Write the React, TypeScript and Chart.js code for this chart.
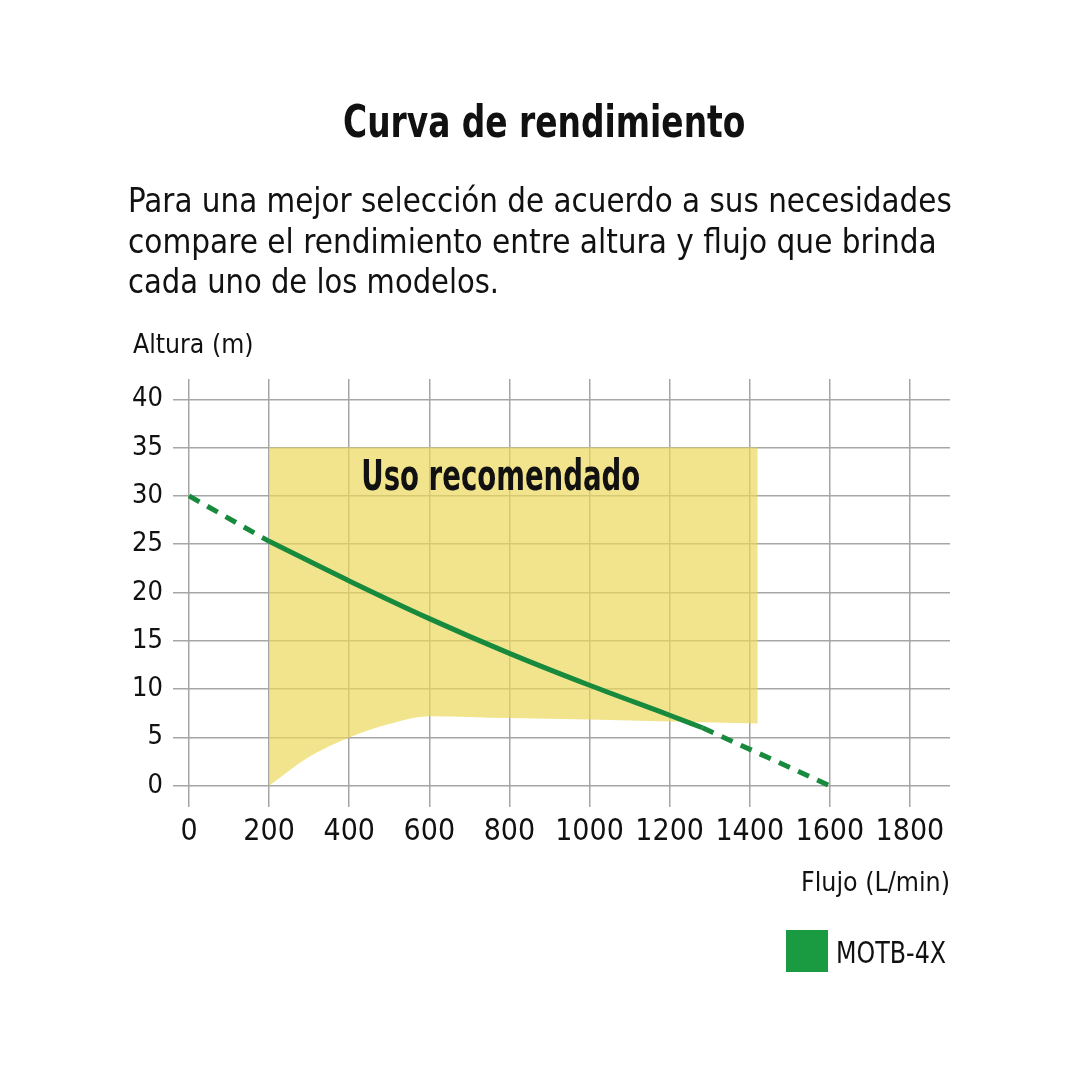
import React, { useEffect, useLayoutEffect, useRef, useState } from 'react';
import { Chart, registerables } from 'chart.js';

Chart.register(...registerables);

// axis ticks
const X_TICKS = [0, 200, 400, 600, 800, 1000, 1200, 1400, 1600, 1800];
const Y_TICKS = [0, 5, 10, 15, 20, 25, 30, 35, 40];

// MOTB-4X curve, solid part (recommended range)
const CURVE_X = [200, 400, 600, 800, 1000, 1200, 1282];
const CURVE_Y = [25.3, 21.2, 17.3, 13.7, 10.4, 7.3, 6.0];

// dashed extensions of the curve
const DASH_LEFT_X = [0, 200];
const DASH_LEFT_Y = [30, 25.3];
const DASH_RIGHT_X = [1282, 1600];
const DASH_RIGHT_Y = [6.0, 0];

// lower edge of the "Uso recomendado" zone (top edge is 35 m)
const ZONE_X = [200, 300, 400, 500, 600, 800, 1000, 1200, 1420];
const ZONE_Y = [0, 3.0, 5.0, 6.4, 7.2, 7.0, 6.85, 6.65, 6.45];
const ZONE_TOP = 35;

const ZONE_LABEL = 'Uso recomendado';
const ZONE_LABEL_AT = { x: 430, y: 30.6 };

const FONT = "'Liberation Sans Narrow', 'DejaVu Sans Condensed', 'Liberation Sans', sans-serif";
const LINE_GREEN = '#188a3e';
const LEGEND_GREEN = '#1a9a41';

const toPoints = (xs: number[], ys: number[]) => xs.map((x, i) => ({ x, y: ys[i] }));

// text squeezed horizontally to a given width (condensed look)
const FitText: React.FC<{ text: string; left: number; top: number; width: number; size: number; weight?: string }> = ({
  text,
  left,
  top,
  width,
  size,
  weight = 'normal',
}) => {
  const ref = useRef<HTMLSpanElement>(null);
  const [scale, setScale] = useState(1);

  useLayoutEffect(() => {
    if (ref.current && ref.current.offsetWidth) {
      setScale(width / ref.current.offsetWidth);
    }
  }, [text, width]);

  return (
    <span
      ref={ref}
      style={{
        position: 'absolute',
        left,
        top,
        whiteSpace: 'nowrap',
        fontFamily: FONT,
        fontSize: size,
        fontWeight: weight,
        lineHeight: 1,
        color: '#111',
        transform: `scaleX(${scale})`,
        transformOrigin: 'left top',
      }}
    >
      {text}
    </span>
  );
};

const zoneLabelPlugin = {
  id: 'zoneLabel',
  afterDatasetsDraw(chart: any) {
    const { ctx, scales } = chart;
    const px = scales.x.getPixelForValue(ZONE_LABEL_AT.x);
    const py = scales.y.getPixelForValue(ZONE_LABEL_AT.y);
    ctx.save();
    ctx.font = `bold 43px ${FONT}`;
    ctx.fillStyle = '#111';
    ctx.textBaseline = 'alphabetic';
    const w = ctx.measureText(ZONE_LABEL).width;
    const sx = 279 / w;
    ctx.translate(px, py);
    ctx.scale(sx, 1);
    ctx.fillText(ZONE_LABEL, 0, 0);
    ctx.restore();
  },
};

const PerformanceChart: React.FC = () => {
  const chartRef = useRef<HTMLCanvasElement>(null);
  const chartInstance = useRef<Chart | null>(null);

  useEffect(() => {
    if (!chartRef.current) return;
    const ctx = chartRef.current.getContext('2d');
    if (!ctx) return;

    const gridColor = '#a6a6a6';

    chartInstance.current = new Chart(ctx, {
      type: 'scatter',
      data: {
        datasets: [
          {
            label: 'MOTB-4X',
            data: toPoints(CURVE_X, CURVE_Y),
            showLine: true,
            borderColor: LINE_GREEN,
            borderWidth: 5,
            pointRadius: 0,
            cubicInterpolationMode: 'monotone',
            order: 0,
          },
          {
            label: 'left dash',
            data: toPoints(DASH_LEFT_X, DASH_LEFT_Y),
            showLine: true,
            borderColor: LINE_GREEN,
            borderWidth: 5,
            borderDash: [12, 9],
            pointRadius: 0,
            order: 0,
          },
          {
            label: 'right dash',
            data: toPoints(DASH_RIGHT_X, DASH_RIGHT_Y),
            showLine: true,
            borderColor: LINE_GREEN,
            borderWidth: 5,
            borderDash: [12, 9],
            pointRadius: 0,
            order: 0,
          },
          {
            label: 'zone',
            data: toPoints(ZONE_X, ZONE_Y),
            showLine: true,
            borderWidth: 0,
            borderColor: 'rgba(0,0,0,0)',
            backgroundColor: 'rgba(236, 216, 91, 0.7)',
            fill: { value: ZONE_TOP },
            pointRadius: 0,
            cubicInterpolationMode: 'monotone',
            order: 1,
          },
        ],
      },
      options: {
        responsive: true,
        maintainAspectRatio: false,
        animation: false,
        layout: {
          padding: { left: 113, top: 379, right: 130, bottom: 213 },
        },
        plugins: {
          legend: { display: false },
          tooltip: { enabled: false },
        },
        scales: {
          x: {
            type: 'linear',
            min: -40,
            max: 1900,
            afterBuildTicks: (scale: any) => {
              scale.ticks = X_TICKS.map(v => ({ value: v }));
            },
            afterFit: (scale: any) => {
              scale.height = 60;
            },
            grid: { color: gridColor, lineWidth: 1.5, drawTicks: false },
            border: { display: false },
            ticks: {
              padding: 7,
              autoSkip: false,
              maxRotation: 0,
              color: '#111',
              font: { family: FONT, size: 30 },
              callback: (v: any) => String(v),
            },
          },
          y: {
            type: 'linear',
            min: -2.2,
            max: 42.1,
            afterBuildTicks: (scale: any) => {
              scale.ticks = Y_TICKS.map(v => ({ value: v }));
            },
            afterFit: (scale: any) => {
              scale.width = 60;
            },
            grid: { color: gridColor, lineWidth: 1.5, drawTicks: false },
            border: { display: false },
            ticks: {
              padding: 10,
              autoSkip: false,
              color: '#111',
              font: { family: FONT, size: 27 },
              callback: (v: any) => String(v),
            },
          },
        },
      },
      plugins: [zoneLabelPlugin],
    });

    return () => {
      if (chartInstance.current) {
        chartInstance.current.destroy();
        chartInstance.current = null;
      }
    };
  }, []);

  return (
    <div style={{ position: 'absolute', left: 0, top: 0, width: 1080, height: 1080 }}>
      <canvas ref={chartRef} />
    </div>
  );
};

export default function App() {
  return (
    <div style={{ position: 'fixed', left: 0, top: 0, width: 1080, height: 1080, background: '#fff', overflow: 'hidden' }}>
      <PerformanceChart />
      <FitText text="Curva de rendimiento" left={343} top={100} width={402} size={44} weight="bold" />
      <FitText text="Para una mejor selección de acuerdo a sus necesidades" left={128} top={183} width={824} size={34} />
      <FitText text="compare el rendimiento entre altura y flujo que brinda" left={128} top={224} width={809} size={34} />
      <FitText text="cada uno de los modelos." left={128} top={264} width={371} size={34} />
      <FitText text="Altura (m)" left={133} top={330} width={120} size={27} />
      <FitText text="Flujo (L/min)" left={801} top={868} width={149} size={27} />
      <div style={{ position: 'absolute', left: 786, top: 930, width: 42, height: 42, background: LEGEND_GREEN }} />
      <FitText text="MOTB-4X" left={836} top={937} width={110} size={31} />
    </div>
  );
}
